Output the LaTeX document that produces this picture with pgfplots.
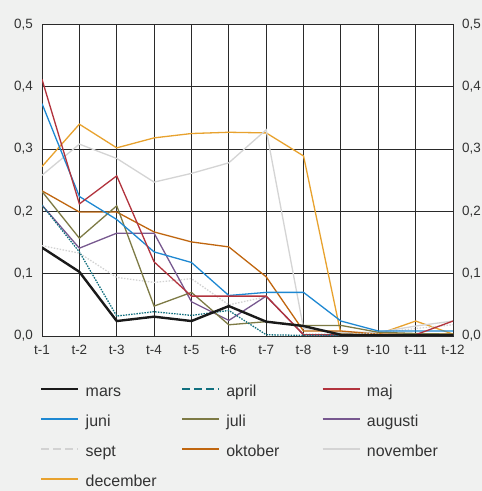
\documentclass[border=0pt]{standalone}
\usepackage{pgfplots}
\pgfplotsset{compat=1.18}
\usepackage{fontspec}
\setmainfont{Liberation Sans}
\definecolor{bg}{HTML}{F0F1F0}
\definecolor{gridc}{HTML}{2A2A2A}
\definecolor{labc}{HTML}{333333}
\definecolor{cmars}{HTML}{1A1A1A}
\definecolor{capril}{HTML}{11707F}
\definecolor{cmaj}{HTML}{B2333D}
\definecolor{cjuni}{HTML}{1E88D2}
\definecolor{cjuli}{HTML}{7D7A45}
\definecolor{caug}{HTML}{77588F}
\definecolor{csept}{HTML}{D2D2D2}
\definecolor{cokt}{HTML}{C0660F}
\definecolor{cnov}{HTML}{D4D4D4}
\definecolor{cdec}{HTML}{E8A22E}
\pgfplotsset{ycomma/.style={yticklabel style={/pgf/number format/use comma, /pgf/number format/fixed, /pgf/number format/fixed zerofill, /pgf/number format/precision=1}}}
\newcommand{\legtxt}[1]{\makebox[95bp][l]{\rule[-7.5bp]{0pt}{24bp}#1}}
\begin{document}
\begin{tikzpicture}
\fill[bg] (0bp,0bp) rectangle (482bp,491bp);
\path[use as bounding box] (0bp,0bp) rectangle (482bp,491bp);
\begin{axis}[
  at={(42bp,155bp)}, anchor=south west,
  scale only axis, width=411bp, height=311.5bp,
  xmin=1, xmax=12, ymin=0, ymax=0.5,
  xtick={1,...,12},
  xticklabels={t-1,t-2,t-3,t-4,t-5,t-6,t-7,t-8,t-9,t-10,t-11,t-12},
  ytick={0,0.1,0.2,0.3,0.4,0.5},
  ycomma,
  /pgf/number format/assume math mode=true,
  grid=major,
  major grid style={color=gridc, line width=0.9bp},
  axis line style={color=gridc, line width=0.9bp},
  major tick length=0pt,
  tick label style={font=\fontsize{13.5}{16}\selectfont, text=labc, inner sep=0pt},
  yticklabel style={anchor=east, xshift=-9bp},
  xticklabel style={anchor=north, yshift=-9bp},
  axis background/.style={fill=white},
  legend columns=3,
  legend cell align=left,
  legend style={at={(-0.005,-0.141)}, anchor=north west, draw=none, fill=none,
    font=\fontsize{16}{18}\selectfont, text=labc, inner sep=0pt,
    nodes={inner sep=0pt}, row sep=12bp, column sep=0pt,
    /tikz/every odd column/.append style={column sep=6bp}},
  legend image code/.code={\draw[#1] (0bp,0bp) -- (37bp,0bp);},
]
% data drawn in reverse order so that mars is on top
\addplot[forget plot, cdec, line width=1.3bp] coordinates {(1,0.272)(2,0.340)(3,0.302)(4,0.318)(5,0.325)(6,0.327)(7,0.326)(8,0.289)(9,0.003)(10,0.003)(11,0.024)(12,0.003)};
\addplot[forget plot, cnov, line width=1.3bp] coordinates {(1,0.258)(2,0.308)(3,0.285)(4,0.247)(5,0.261)(6,0.278)(7,0.331)(8,0.012)(9,0.006)(10,0.006)(11,0.016)(12,0.024)};
\addplot[forget plot, cokt, line width=1.3bp] coordinates {(1,0.233)(2,0.199)(3,0.199)(4,0.167)(5,0.151)(6,0.143)(7,0.095)(8,0.008)(9,0.008)(10,0.003)(11,0.003)(12,0.003)};
\addplot[forget plot, csept, line width=1.3bp, dash pattern=on 1.5bp off 1.5bp] coordinates {(1,0.145)(2,0.133)(3,0.094)(4,0.086)(5,0.092)(6,0.050)(7,0.063)(8,0.003)(9,0.003)(10,0.005)(11,0.012)(12,0.018)};
\addplot[forget plot, caug, line width=1.3bp] coordinates {(1,0.210)(2,0.141)(3,0.165)(4,0.165)(5,0.055)(6,0.025)(7,0.064)(8,0.002)(9,0.001)(10,0.001)(11,0.001)(12,0.001)};
\addplot[forget plot, cjuli, line width=1.3bp] coordinates {(1,0.232)(2,0.157)(3,0.209)(4,0.048)(5,0.070)(6,0.018)(7,0.023)(8,0.017)(9,0.017)(10,0.006)(11,0.004)(12,0.003)};
\addplot[forget plot, cjuni, line width=1.3bp] coordinates {(1,0.373)(2,0.224)(3,0.187)(4,0.135)(5,0.118)(6,0.065)(7,0.070)(8,0.070)(9,0.024)(10,0.008)(11,0.008)(12,0.008)};
\addplot[forget plot, cmaj, line width=1.3bp] coordinates {(1,0.412)(2,0.212)(3,0.257)(4,0.119)(5,0.064)(6,0.064)(7,0.064)(8,0.002)(9,0.002)(10,0.002)(11,0.002)(12,0.024)};
\addplot[forget plot, capril, line width=1.3bp, dash pattern=on 1.5bp off 1.2bp] coordinates {(1,0.210)(2,0.135)(3,0.032)(4,0.039)(5,0.033)(6,0.041)(7,0.002)(8,0.001)(9,0.001)(10,0.001)(11,0.001)(12,0.001)};
\addplot[forget plot, cmars, line width=2.4bp] coordinates {(1,0.142)(2,0.103)(3,0.024)(4,0.031)(5,0.024)(6,0.048)(7,0.023)(8,0.016)(9,0.002)(10,0.001)(11,0.001)(12,0.001)};
% legend
\addlegendimage{cmars, line width=2.6bp}\addlegendentry{\legtxt{mars}}
\addlegendimage{capril, line width=2.6bp, dash pattern=on 7.5bp off 4.5bp}\addlegendentry{\legtxt{april}}
\addlegendimage{cmaj, line width=2.6bp}\addlegendentry{\legtxt{maj}}
\addlegendimage{cjuni, line width=2.6bp}\addlegendentry{\legtxt{juni}}
\addlegendimage{cjuli, line width=2.6bp}\addlegendentry{\legtxt{juli}}
\addlegendimage{caug, line width=2.6bp}\addlegendentry{\legtxt{augusti}}
\addlegendimage{csept, line width=2.6bp, dash pattern=on 7.5bp off 4.5bp}\addlegendentry{\legtxt{sept}}
\addlegendimage{cokt, line width=2.6bp}\addlegendentry{\legtxt{oktober}}
\addlegendimage{cnov, line width=2.6bp}\addlegendentry{\legtxt{november}}
\addlegendimage{cdec, line width=2.6bp}\addlegendentry{\legtxt{december}}
\end{axis}
\begin{axis}[
  at={(42bp,155bp)}, anchor=south west,
  scale only axis, width=411bp, height=311.5bp,
  xmin=1, xmax=12, ymin=0, ymax=0.5,
  axis x line=none, axis y line*=right,
  axis line style={draw=none},
  ytick={0,0.1,0.2,0.3,0.4,0.5},
  ycomma,
  /pgf/number format/assume math mode=true,
  major tick length=0pt,
  tick label style={font=\fontsize{13.5}{16}\selectfont, text=labc, inner sep=0pt},
  yticklabel style={anchor=west, xshift=9bp},
]
\addplot[draw=none, forget plot] coordinates {(1,0)(12,0.5)};
\end{axis}
\end{tikzpicture}
\end{document}
